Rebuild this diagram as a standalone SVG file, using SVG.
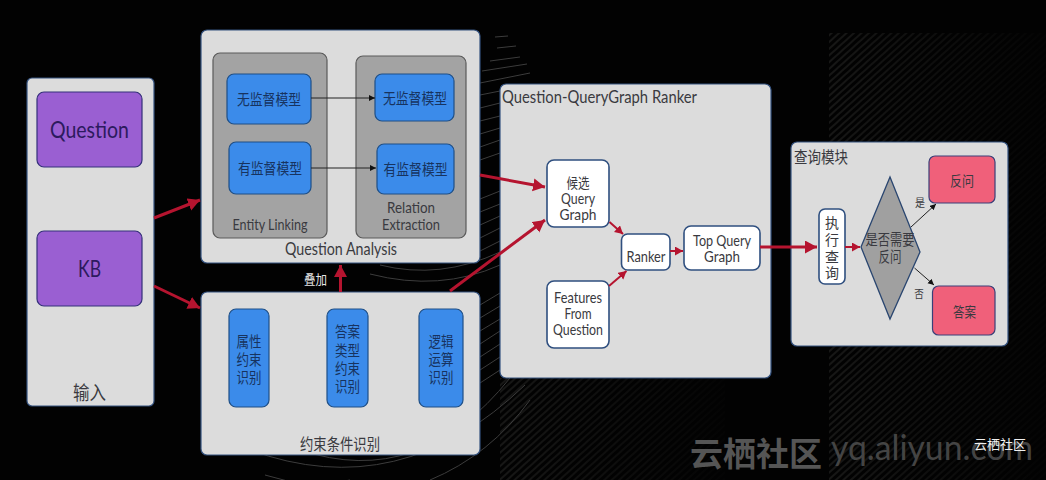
<svg xmlns="http://www.w3.org/2000/svg" width="1046" height="480" viewBox="0 0 1046 480">
<style>
text{font-family:"Lato","Noto Sans CJK SC",sans-serif;fill:#3a3a40;text-anchor:middle}
.panel{fill:#dcdcdc;stroke:#34527f;stroke-width:1.2}
.grey{fill:#a3a3a3;stroke:#5a5a5a;stroke-width:1.2}
.blue{fill:#3b8bea;stroke:#1f4f86;stroke-width:1.2}
.purple{fill:#9a5fd2;stroke:#34307a;stroke-width:1.2}
.white{fill:#fff;stroke:#2f4f7f;stroke-width:1.6}
.pink{fill:#f0607a;stroke:#3a3f78;stroke-width:1.2}
.onblue{fill:#17335f}
.onpurple{fill:#2c1a5e}
.red{stroke:#b5142f;stroke-width:3;fill:none;marker-end:url(#rh)}
.red2{stroke:#b5142f;stroke-width:2;fill:none;marker-end:url(#rs)}
.thin{stroke:#222;stroke-width:1;fill:none;marker-end:url(#bh)}
.arc{fill:none;stroke:#3c3c3c;stroke-width:1}
</style>
<defs>
<marker id="rh" markerUnits="userSpaceOnUse" markerWidth="14" markerHeight="14" refX="12" refY="6.500" orient="auto"><path d="M0 0L12 6.500L0 13z" fill="#b5142f"/></marker>
<marker id="rs" markerUnits="userSpaceOnUse" markerWidth="10" markerHeight="10" refX="8" refY="4.500" orient="auto"><path d="M0 0L8 4.500L0 9z" fill="#b5142f"/></marker>
<marker id="bh" markerUnits="userSpaceOnUse" markerWidth="8" markerHeight="8" refX="6" refY="3" orient="auto"><path d="M0 0L6 3L0 6z" fill="#111"/></marker>
<pattern id="hatch" width="5" height="5" patternUnits="userSpaceOnUse" patternTransform="rotate(-42)"><path d="M0 1H5" stroke="#2c2c2a" stroke-width="1"/></pattern>
<linearGradient id="fadeA"><stop offset="0" stop-color="#020202" stop-opacity="0"/><stop offset="1" stop-color="#020202" stop-opacity=".9"/></linearGradient>
</defs>
<rect width="1046" height="480" fill="#020202"/>
<!-- striped backdrop, fading towards the right -->
<rect x="829" y="33" width="217" height="447" fill="url(#hatch)"/>
<rect x="829" y="33" width="217" height="447" fill="url(#fadeA)"/>
<rect x="500" y="378" width="225" height="102" fill="url(#hatch)"/>
<rect x="500" y="378" width="225" height="102" fill="url(#fadeA)"/>
<!-- curved lines behind the panels -->
<g class="arcs">
<path class="arc" d="M495 37L508 36"/><path class="arc" d="M497 48L516 46"/><path class="arc" d="M490 61L520 57"/><path class="arc" d="M482 71L527 64"/><path class="arc" d="M480 83L530 73"/>
<path class="arc" d="M480 95L500 91"/><path class="arc" d="M480 108L500 103"/><path class="arc" d="M480 121L500 116"/><path class="arc" d="M480 134L500 128"/><path class="arc" d="M480 147L500 140"/><path class="arc" d="M480 160L500 153"/>
<path class="arc" d="M480 199L500 191"/><path class="arc" d="M480 212L500 204"/><path class="arc" d="M480 225L500 216"/><path class="arc" d="M480 238L500 228"/><path class="arc" d="M480 251L500 241"/>
<path class="arc" d="M380 265Q440 280 500 252"/><path class="arc" d="M370 274Q440 292 500 265"/>
<path class="arc" d="M480 305L500 293"/><path class="arc" d="M480 318L500 306"/><path class="arc" d="M480 331L500 319"/><path class="arc" d="M480 344L500 331"/><path class="arc" d="M480 357L500 344"/><path class="arc" d="M480 370L500 357"/><path class="arc" d="M480 383L500 370"/>
<path class="arc" d="M300 450Q420 490 510 378"/><path class="arc" d="M250 450Q400 505 525 385"/><path class="arc" d="M265 475Q310 490 350 480"/><path class="arc" d="M430 480Q490 455 530 400"/>
</g>
<g id="input"><rect class="panel" x="27" y="78" width="127" height="328" rx="5"/>
<rect class="purple" x="37" y="92" width="105" height="75" rx="7"/><text class="onpurple" x="89.500" y="138" font-size="24" textLength="79" lengthAdjust="spacingAndGlyphs">Question</text>
<rect class="purple" x="37" y="231" width="105" height="75" rx="7"/><text class="onpurple" x="89.500" y="277" font-size="24" textLength="23" lengthAdjust="spacingAndGlyphs">KB</text>
<text x="89.500" y="400" font-size="19" textLength="33" lengthAdjust="spacingAndGlyphs">输入</text></g>
<g id="question-analysis"><rect class="panel" x="201" y="30" width="279" height="233" rx="6"/>
<rect class="grey" x="213" y="53" width="114" height="185" rx="7"/><rect class="grey" x="356" y="56" width="110" height="182" rx="7"/>
<rect class="blue" x="227" y="74" width="84" height="50" rx="7"/><text class="onblue" x="269" y="105" font-size="15" textLength="64" lengthAdjust="spacingAndGlyphs">无监督模型</text>
<rect class="blue" x="229" y="142" width="82" height="52" rx="7"/><text class="onblue" x="270" y="174" font-size="15" textLength="64" lengthAdjust="spacingAndGlyphs">有监督模型</text>
<rect class="blue" x="375" y="74" width="79" height="47" rx="7"/><text class="onblue" x="415" y="104" font-size="15" textLength="64" lengthAdjust="spacingAndGlyphs">无监督模型</text>
<rect class="blue" x="377" y="144" width="77" height="50" rx="7"/><text class="onblue" x="415.500" y="175" font-size="15" textLength="64" lengthAdjust="spacingAndGlyphs">有监督模型</text>
<text x="270" y="230" font-size="16" textLength="75" lengthAdjust="spacingAndGlyphs">Entity Linking</text>
<text x="411" y="213" font-size="16" textLength="48" lengthAdjust="spacingAndGlyphs">Relation</text><text x="411" y="230" font-size="16" textLength="58" lengthAdjust="spacingAndGlyphs">Extraction</text>
<text x="341" y="255" font-size="17" textLength="112" lengthAdjust="spacingAndGlyphs">Question Analysis</text></g>
<g id="constraints"><rect class="panel" x="201" y="292" width="279" height="163" rx="6"/>
<rect class="blue" x="229" y="309" width="40" height="98" rx="7"/>
<text class="onblue" x="249" y="347" font-size="15" textLength="25" lengthAdjust="spacingAndGlyphs">属性</text><text class="onblue" x="249" y="365" font-size="15" textLength="25" lengthAdjust="spacingAndGlyphs">约束</text><text class="onblue" x="249" y="383" font-size="15" textLength="25" lengthAdjust="spacingAndGlyphs">识别</text>
<rect class="blue" x="327" y="309" width="41" height="98" rx="7"/>
<text class="onblue" x="347.500" y="337" font-size="15" textLength="25" lengthAdjust="spacingAndGlyphs">答案</text><text class="onblue" x="347.500" y="356" font-size="15" textLength="25" lengthAdjust="spacingAndGlyphs">类型</text><text class="onblue" x="347.500" y="374" font-size="15" textLength="25" lengthAdjust="spacingAndGlyphs">约束</text><text class="onblue" x="347.500" y="392" font-size="15" textLength="25" lengthAdjust="spacingAndGlyphs">识别</text>
<rect class="blue" x="419" y="309" width="44" height="98" rx="7"/>
<text class="onblue" x="441" y="347" font-size="15" textLength="25" lengthAdjust="spacingAndGlyphs">逻辑</text><text class="onblue" x="441" y="365" font-size="15" textLength="25" lengthAdjust="spacingAndGlyphs">运算</text><text class="onblue" x="441" y="383" font-size="15" textLength="25" lengthAdjust="spacingAndGlyphs">识别</text>
<text x="340" y="450" font-size="16" textLength="80" lengthAdjust="spacingAndGlyphs">约束条件识别</text></g>
<g id="ranker-panel"><rect class="panel" x="500" y="84" width="271" height="294" rx="6"/>
<text x="599.500" y="103" font-size="18" textLength="195" lengthAdjust="spacingAndGlyphs">Question-QueryGraph Ranker</text>
<rect class="white" x="547" y="160" width="62" height="67" rx="7"/>
<text x="578" y="188" font-size="14" textLength="23" lengthAdjust="spacingAndGlyphs">候选</text><text x="578" y="204" font-size="15" textLength="34" lengthAdjust="spacingAndGlyphs">Query</text><text x="578" y="220" font-size="15" textLength="37" lengthAdjust="spacingAndGlyphs">Graph</text>
<rect class="white" x="547" y="281" width="62" height="67" rx="7"/>
<text x="578" y="303" font-size="15" textLength="48" lengthAdjust="spacingAndGlyphs">Features</text><text x="578" y="319" font-size="15" textLength="27" lengthAdjust="spacingAndGlyphs">From</text><text x="578" y="335" font-size="15" textLength="50" lengthAdjust="spacingAndGlyphs">Question</text>
<rect class="white" x="621.500" y="234" width="48.500" height="36" rx="6"/><text x="646" y="262" font-size="15" textLength="39" lengthAdjust="spacingAndGlyphs">Ranker</text>
<rect class="white" x="684" y="226" width="76" height="44" rx="7"/><text x="722" y="246" font-size="15" textLength="58" lengthAdjust="spacingAndGlyphs">Top Query</text><text x="722" y="262" font-size="15" textLength="36" lengthAdjust="spacingAndGlyphs">Graph</text></g>
<g id="query-panel"><rect class="panel" x="791" y="142" width="217" height="204" rx="6"/>
<text x="821" y="163" font-size="16" textLength="54" lengthAdjust="spacingAndGlyphs">查询模块</text>
<rect class="white" x="819" y="209" width="26" height="75" rx="6"/>
<text x="832" y="228" font-size="14">执</text><text x="832" y="245" font-size="14">行</text><text x="832" y="262" font-size="14">查</text><text x="832" y="278" font-size="14">询</text>
<path d="M861 247L890 177L920 252L890 319Z" fill="#a0a0a0" stroke="#2a4670" stroke-width="1.300"/>
<text x="890" y="245" font-size="15" textLength="49" lengthAdjust="spacingAndGlyphs">是否需要</text><text x="890" y="262" font-size="15" textLength="23" lengthAdjust="spacingAndGlyphs">反问</text>
<rect class="pink" x="929" y="156" width="66" height="47" rx="6"/><text x="962" y="186" font-size="14" textLength="24" lengthAdjust="spacingAndGlyphs">反问</text>
<rect class="pink" x="932.500" y="286" width="62.500" height="49" rx="6"/><text x="964.500" y="317" font-size="14" textLength="23" lengthAdjust="spacingAndGlyphs">答案</text>
<text x="920" y="207" font-size="11" textLength="10" lengthAdjust="spacingAndGlyphs">是</text><text x="919" y="298" font-size="11" textLength="9.500" lengthAdjust="spacingAndGlyphs">否</text></g>
<text x="315.500" y="284" font-size="13" textLength="23" lengthAdjust="spacingAndGlyphs" style="fill:#e6e6e6">叠加</text>
<g id="connectors">
<path class="red" d="M154 218L200 200"/><path class="red" d="M154 286L200 308"/>
<path class="red" d="M340.500 292V265"/>
<path class="red" d="M480 175L545 187"/><path class="red" d="M450 291L545 220"/>
<path class="thin" d="M311 98H375"/><path class="thin" d="M311 168H376"/>
<path class="red2" d="M609.500 222L623 234"/><path class="red2" d="M609 286L626.500 271"/>
<path class="red2" d="M670 251H683"/><path class="red" d="M760 247H817"/><path class="red2" d="M845 247H860"/>
<path class="thin" d="M911 227L936 204"/><path class="thin" d="M914.500 268L934 285"/>
</g>
<text x="756" y="466" font-size="33" font-weight="700" textLength="132" lengthAdjust="spacingAndGlyphs" style="fill:#555">云栖社区</text>
<text x="932" y="460" font-size="34" textLength="202" lengthAdjust="spacingAndGlyphs" style="fill:#444">yq.aliyun.com</text>
<text x="1000" y="449" font-size="13" textLength="52" lengthAdjust="spacingAndGlyphs" style="fill:#f0f0f0">云栖社区</text>
</svg>
